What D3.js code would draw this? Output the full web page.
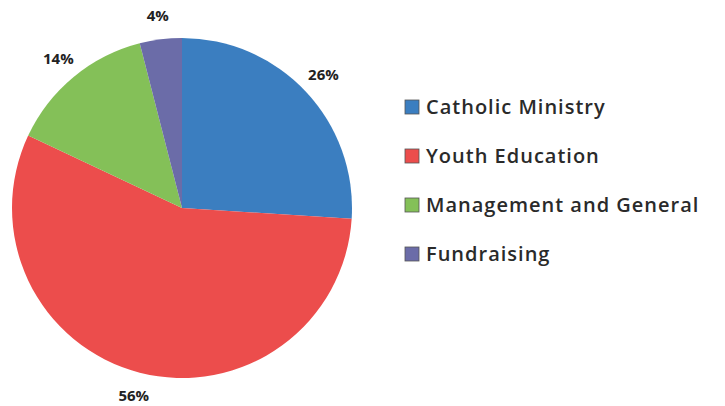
<!DOCTYPE html>
<html>
<head>
    <meta charset="utf-8" />
    <title>Expenses pie</title>
    <script src="https://d3js.org/d3.v7.min.js"></script>
    <style>
        body { margin: 0; background: #fff; }
        text { font-family: "Open Sans", Lato, sans-serif; fill: #222; }
        .pct { font-size: 15px; font-weight: bold; }
        .legend text { font-size: 20px; font-weight: 600; fill: #2a2a2a; letter-spacing: 1px; }
    </style>
</head>
<body>
    <div id="chart"></div>
    <script>
        const categories = ["Catholic Ministry", "Youth Education", "Management and General", "Fundraising"];
        const values = [26, 56, 14, 4];
        const colors = ["#3b7ec0", "#ec4d4c", "#84c058", "#6b6ca8"];

        const width = 725, height = 406;
        const cx = 182, cy = 208, radius = 170;

        const svg = d3.select("#chart").append("svg")
            .attr("width", width)
            .attr("height", height);

        const data = categories.map((c, i) => ({ name: c, value: values[i], color: colors[i] }));

        const pie = d3.pie().value(d => d.value).sort(null);
        const arc = d3.arc().innerRadius(0).outerRadius(radius);
        const labelArc = d3.arc().innerRadius(194).outerRadius(194);

        const g = svg.append("g").attr("transform", `translate(${cx},${cy})`);

        g.selectAll("path")
            .data(pie(data))
            .enter().append("path")
            .attr("d", arc)
            .attr("fill", d => d.data.color);

        g.selectAll("text.pct")
            .data(pie(data))
            .enter().append("text")
            .attr("class", "pct")
            .attr("transform", d => `translate(${labelArc.centroid(d)})`)
            .attr("text-anchor", "middle")
            .attr("dy", "0.35em")
            .text(d => d.data.value + "%");

        const legend = svg.append("g")
            .attr("class", "legend")
            .attr("transform", "translate(405,107)");

        const item = legend.selectAll("g")
            .data(data)
            .enter().append("g")
            .attr("transform", (d, i) => `translate(0,${i * 49})`);

        item.append("rect")
            .attr("x", 0)
            .attr("y", -7)
            .attr("width", 14)
            .attr("height", 14)
            .attr("fill", d => d.color)
            .attr("stroke", "#555")
            .attr("stroke-width", 0.8);

        item.append("text")
            .attr("x", 21)
            .attr("dy", "0.35em")
            .text(d => d.name);
    </script>
</body>
</html>
